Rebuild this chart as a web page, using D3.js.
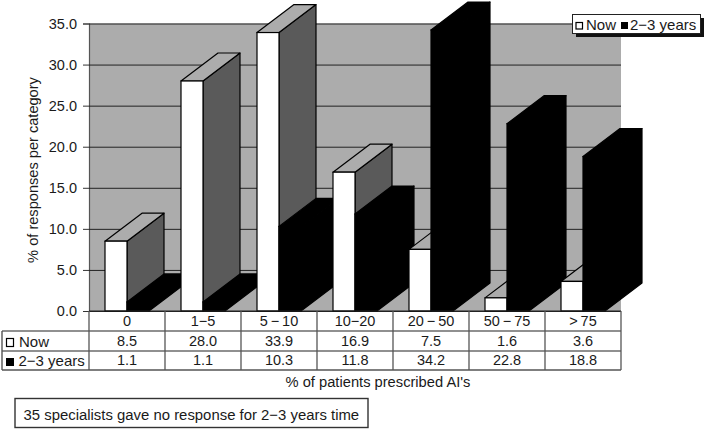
<!DOCTYPE html>
<html><head><meta charset="utf-8">
<script src="https://cdn.jsdelivr.net/npm/d3@7"></script>
<style>html,body{margin:0;padding:0;background:#fff}svg{display:block}text{font-family:"Liberation Sans",Arial,sans-serif;fill:#1a1a1a}</style>
</head><body><svg id="c" width="706" height="430"></svg>
<script>
const categories = ["0","1\u22125","5\u2009\u2212\u200910","10\u221220","20\u2009\u2212\u200950","50\u2009\u2212\u200975",">\u200975"];
const nowValues = [8.5,28.0,33.9,16.9,7.5,1.6,3.6];
const laterValues = [1.1,1.1,10.3,11.8,34.2,22.8,18.8];
const nowLabel = "Now";
const laterLabel = "2\u22123 years";
const yTicks = [0,5,10,15,20,25,30,35];
const yTitle = "% of responses per category";
const xTitle = "% of patients prescribed AI's";
const note = "35 specialists gave no response for 2\u22123 years time";

const FS = 14.5, FL = 15;
const svg = d3.select("#c");
const L=89,R=621,T=23.5,B=311;
const x = d3.scaleBand().domain(categories).range([L,R]);
const y = d3.scaleLinear().domain([0,35]).range([B,T]);
const bw = 22, off = 16, dx = 37, dy = 28;

// wall
svg.append("rect").attr("x",L).attr("y",T).attr("width",R-L).attr("height",B-T).attr("fill","#acacac");
// y axis with grid lines
const ax = svg.append("g").attr("transform",`translate(${L},0)`)
  .call(d3.axisLeft(y).tickValues(yTicks).tickFormat(d3.format(".1f")).tickSize(6).tickPadding(6));
ax.select(".domain").attr("stroke","#555").attr("stroke-width",1.2);
ax.selectAll(".tick line").attr("stroke","#333");
ax.selectAll(".tick text").attr("font-size",FS).attr("font-family","Liberation Sans");
ax.selectAll(".tick").append("line").attr("x1",0).attr("x2",R-L).attr("stroke","#222").attr("stroke-width",1);

function bar3d(g, x0, v, front, side, top, stroke){
  const y0 = y(0), yv = y(v), x1 = x0+bw;
  const pts = a => a.map(p=>p.join(",")).join(" ");
  g.append("polygon").attr("points",pts([[x1,yv],[x1+dx,yv-dy],[x1+dx,y0-dy],[x1,y0]])).attr("fill",side).attr("stroke",stroke).attr("stroke-width",1.2).attr("stroke-linejoin","round");
  g.append("polygon").attr("points",pts([[x0,yv],[x0+dx,yv-dy],[x1+dx,yv-dy],[x1,yv]])).attr("fill",top).attr("stroke",stroke).attr("stroke-width",1.2).attr("stroke-linejoin","round");
  g.append("rect").attr("x",x0).attr("y",yv).attr("width",bw).attr("height",y0-yv).attr("fill",front).attr("stroke",stroke).attr("stroke-width",1.2);
}
const bars = svg.append("g");
categories.forEach((c,i)=>{
  const g = bars.append("g");
  bar3d(g, x(c)+off, nowValues[i], "#fff", "#5a5a5a", "#acacac", "#000");
  bar3d(g, x(c)+off+bw, laterValues[i], "#000", "#000", "#000", "#000");
});

// data table
const tbl = svg.append("g");
const rows = [311,331,351,370], lineC = "#333";
const line=(a,b,c,d,col=lineC,w=1.1)=>tbl.append("line").attr("x1",a).attr("y1",b).attr("x2",c).attr("y2",d).attr("stroke",col).attr("stroke-width",w);
line(L,rows[0],R,rows[0],"#222");
line(2,rows[1],R,rows[1],"#222");
line(2,rows[2],R,rows[2],"#222");
line(2,rows[3],R,rows[3],"#555",1.4);
line(2,rows[1],2,rows[3],"#555",1.4);
x.domain().forEach(c=>line(x(c),rows[0],x(c),rows[3],"#555",1.3));
line(R,rows[0],R,rows[3],"#555",1.3);
const cell=(t,cx,cy,anchor="middle",fs=FS)=>tbl.append("text").attr("x",cx).attr("y",cy).attr("text-anchor",anchor).attr("font-size",fs).text(t);
categories.forEach((c,i)=>{
  const cx = x(c)+x.bandwidth()/2;
  cell(c,cx,326);
  cell(nowValues[i].toFixed(1),cx,346);
  cell(laterValues[i].toFixed(1),cx,365);
});
tbl.append("rect").attr("x",6.5).attr("y",338.5).attr("width",7).attr("height",8).attr("fill","#fff").attr("stroke","#000").attr("stroke-width",1.2);
tbl.append("rect").attr("x",6).attr("y",358).attr("width",8).attr("height",8).attr("fill","#000");
cell(nowLabel,19,347,"start",FL);
cell(laterLabel,18.5,366,"start",FL);

// legend
const lg = svg.append("g");
lg.append("rect").attr("x",576).attr("y",18).attr("width",128).attr("height",19).attr("fill","#111");
lg.append("rect").attr("x",572.5).attr("y",14.5).attr("width",128).attr("height",19).attr("fill","#fff").attr("stroke","#222").attr("stroke-width",1);
lg.append("rect").attr("x",576).attr("y",22.5).attr("width",6.5).attr("height",6.5).attr("fill","#fff").attr("stroke","#000").attr("stroke-width",1.2);
lg.append("text").attr("x",586).attr("y",29.5).attr("font-size",FL).text(nowLabel);
lg.append("rect").attr("x",621).attr("y",22).attr("width",7).attr("height",7).attr("fill","#000");
lg.append("text").attr("x",630).attr("y",29.5).attr("font-size",FL).text(laterLabel);

// titles
svg.append("text").attr("transform","translate(38,170) rotate(-90)").attr("text-anchor","middle").attr("font-size",FS+.1).text(yTitle);
svg.append("text").attr("x",378).attr("y",387).attr("text-anchor","middle").attr("font-size",FS+.2).text(xTitle);

// note
svg.append("rect").attr("x",15).attr("y",398.5).attr("width",353).attr("height",29).attr("fill","#fff").attr("stroke","#333").attr("stroke-width",1.4);
svg.append("text").attr("x",23.5).attr("y",419.5).attr("font-size",14.9).text(note);
</script></body></html>
